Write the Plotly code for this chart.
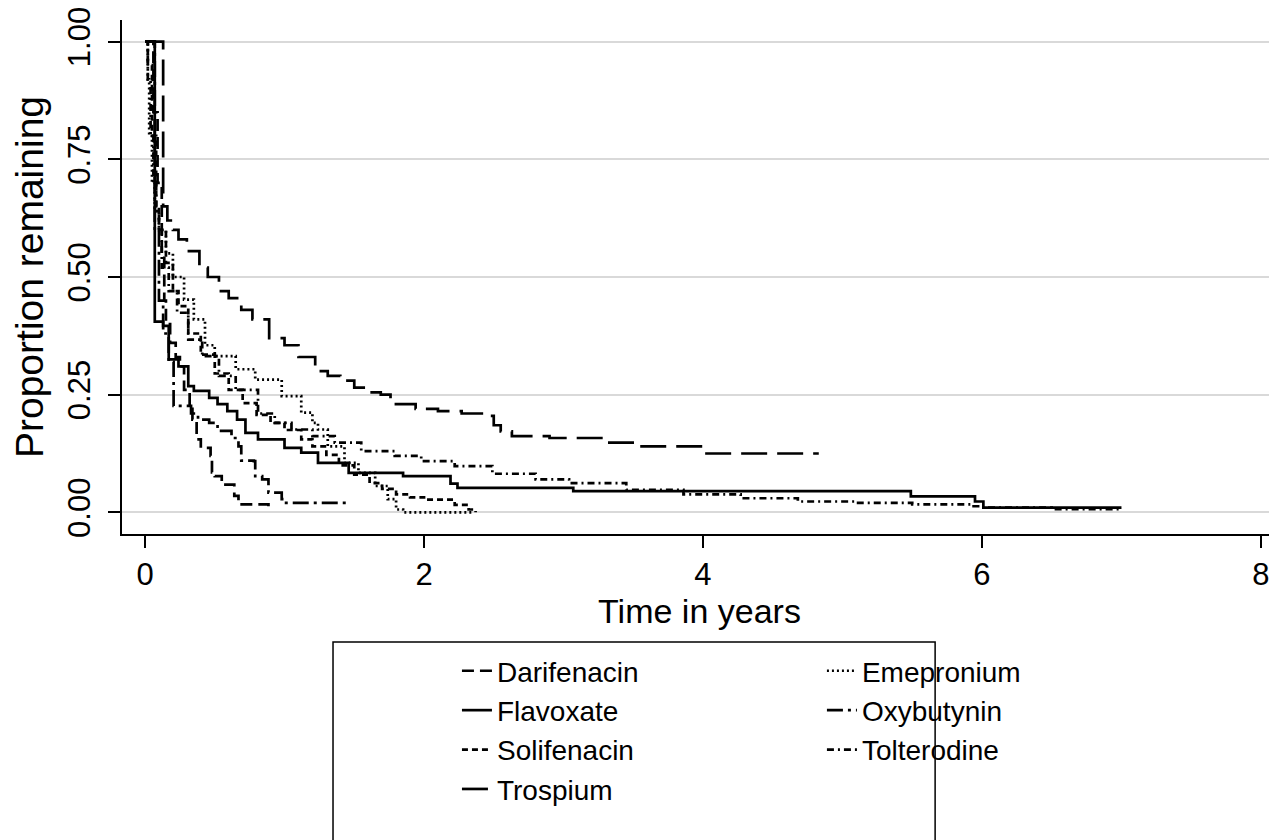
import plotly.graph_objects as go

# ---- data ----
drugs = ["Darifenacin", "Emepronium", "Flavoxate", "Oxybutynin",
         "Solifenacin", "Tolterodine", "Trospium"]

darifenacin_t = [0, 0.06, 0.09, 0.12, 0.138, 0.15, 0.18, 0.22, 0.25, 0.28, 0.32, 0.34, 0.37, 0.40, 0.47, 0.48, 0.50, 0.55, 0.64, 0.67, 0.885]
darifenacin_s = [1.0, 0.85, 0.70, 0.55, 0.45, 0.40, 0.36, 0.33, 0.31, 0.26, 0.22, 0.197, 0.155, 0.137, 0.12, 0.085, 0.077, 0.059, 0.035, 0.017, 0.0]

emepronium_t = [0, 0.02, 0.03, 0.05, 0.07, 0.10, 0.15, 0.20, 0.28, 0.35, 0.43, 0.50, 0.65, 0.79, 0.98, 1.12, 1.20, 1.24, 1.31, 1.43, 1.53, 1.65, 1.74, 1.80, 1.85, 2.35]
emepronium_s = [1.0, 0.92, 0.80, 0.70, 0.64, 0.60, 0.55, 0.50, 0.452, 0.41, 0.355, 0.332, 0.304, 0.282, 0.247, 0.212, 0.19, 0.176, 0.14, 0.105, 0.084, 0.056, 0.028, 0.006, 0.0, 0.0]

flavoxate_t = [0, 0.07, 0.13, 0.17, 0.24, 0.31, 0.35, 0.46, 0.52, 0.59, 0.66, 0.72, 0.81, 1.00, 1.12, 1.24, 1.46, 1.85, 2.19, 2.24, 3.07, 5.49, 5.95, 6.01, 7.0]
flavoxate_s = [1.0, 0.405, 0.396, 0.325, 0.31, 0.268, 0.258, 0.243, 0.23, 0.215, 0.197, 0.169, 0.155, 0.137, 0.127, 0.105, 0.084, 0.077, 0.061, 0.052, 0.045, 0.034, 0.023, 0.01, 0.01]

oxybutynin_t = [0, 0.07, 0.10, 0.13, 0.17, 0.205, 0.33, 0.38, 0.46, 0.52, 0.62, 0.67, 0.69, 0.78, 0.79, 0.84, 0.885, 0.98, 1.00, 1.47]
oxybutynin_s = [1.0, 0.60, 0.45, 0.38, 0.32, 0.226, 0.21, 0.197, 0.19, 0.173, 0.158, 0.14, 0.11, 0.109, 0.077, 0.07, 0.042, 0.028, 0.02, 0.02]

solifenacin_t = [0, 0.02, 0.05, 0.08, 0.10, 0.15, 0.20, 0.24, 0.31, 0.40, 0.50, 0.60, 0.70, 0.80, 0.90, 1.00, 1.12, 1.20, 1.30, 1.39, 1.50, 1.61, 1.70, 1.80, 1.90, 2.02, 2.22, 2.32, 2.37]
solifenacin_s = [1.0, 0.95, 0.80, 0.65, 0.60, 0.53, 0.47, 0.438, 0.38, 0.335, 0.295, 0.26, 0.232, 0.207, 0.19, 0.175, 0.155, 0.14, 0.122, 0.10, 0.08, 0.062, 0.05, 0.038, 0.032, 0.027, 0.016, 0.006, 0.0]

tolterodine_t = [0, 0.02, 0.04, 0.06, 0.08, 0.10, 0.12, 0.17, 0.23, 0.31, 0.41, 0.53, 0.65, 0.81, 0.93, 1.05, 1.20, 1.36, 1.55, 1.79, 1.98, 2.22, 2.49, 2.80, 3.04, 3.45, 3.86, 4.27, 4.68, 5.09, 5.50, 5.94, 6.00, 6.50, 7.0]
tolterodine_s = [1.0, 0.92, 0.80, 0.70, 0.64, 0.60, 0.52, 0.47, 0.424, 0.367, 0.332, 0.29, 0.26, 0.21, 0.19, 0.176, 0.162, 0.148, 0.13, 0.12, 0.109, 0.098, 0.082, 0.07, 0.062, 0.048, 0.038, 0.03, 0.023, 0.02, 0.017, 0.013, 0.01, 0.007, 0.005]

trospium_t = [0, 0.13, 0.16, 0.20, 0.24, 0.30, 0.39, 0.45, 0.53, 0.60, 0.69, 0.77, 0.89, 1.00, 1.10, 1.22, 1.31, 1.40, 1.50, 1.60, 1.69, 1.76, 1.94, 2.10, 2.27, 2.45, 2.50, 2.55, 2.63, 2.90, 3.31, 3.55, 4.00, 4.83]
trospium_s = [1.0, 0.65, 0.62, 0.60, 0.58, 0.555, 0.52, 0.50, 0.47, 0.455, 0.43, 0.41, 0.37, 0.355, 0.33, 0.30, 0.29, 0.28, 0.265, 0.255, 0.25, 0.23, 0.22, 0.215, 0.21, 0.205, 0.185, 0.172, 0.162, 0.158, 0.148, 0.14, 0.125, 0.125]

y_tickvals = [0, 0.25, 0.5, 0.75, 1.0]
y_ticktext = ["0.00", "0.25", "0.50", "0.75", "1.00"]
x_tickvals = [0, 2, 4, 6, 8]

series = {
    "Darifenacin": (darifenacin_t, darifenacin_s),
    "Emepronium": (emepronium_t, emepronium_s),
    "Flavoxate": (flavoxate_t, flavoxate_s),
    "Oxybutynin": (oxybutynin_t, oxybutynin_s),
    "Solifenacin": (solifenacin_t, solifenacin_s),
    "Tolterodine": (tolterodine_t, tolterodine_s),
    "Trospium": (trospium_t, trospium_s),
}

dash_styles = {
    "Darifenacin": "12px,6px",
    "Emepronium": "2px,3px",
    "Flavoxate": "solid",
    "Oxybutynin": "16px,5px,3px,5px",
    "Solifenacin": "6px,4px",
    "Tolterodine": "7px,4px,2px,4px",
    "Trospium": "26px,10px",
}
left_col = ["Darifenacin", "Flavoxate", "Solifenacin", "Trospium"]

FONT = "Liberation Sans, Arial, Helvetica, sans-serif"

fig = go.Figure()
for name in drugs:
    t, s = series[name]
    fig.add_trace(go.Scatter(
        x=t, y=s, mode="lines", name=name,
        line=dict(color="black", width=2.7, dash=dash_styles[name], shape="hv"),
        legend="legend" if name in left_col else "legend2",
    ))

legend_common = dict(
    orientation="v", yanchor="top", xanchor="left",
    font=dict(family=FONT, size=28, color="black"),
    bgcolor="rgba(0,0,0,0)", borderwidth=0, tracegroupgap=0,
)

# the page body adds an 8px margin, so the figure is 8px smaller than the window
fig.update_layout(
    width=1269, height=832,
    margin=dict(l=114, r=0, t=12, b=306, autoexpand=False),
    paper_bgcolor="white", plot_bgcolor="white",
    font=dict(family=FONT, color="black"),
    showlegend=True,
    legend=dict(x=0.290, y=-0.218, **legend_common),
    legend2=dict(x=0.606, y=-0.218, **legend_common),
    shapes=[dict(type="rect", xref="paper", yref="paper",
                 x0=0.1827, x1=0.704, y0=-0.70, y1=-0.210,
                 line=dict(color="black", width=1.5), fillcolor="rgba(0,0,0,0)")],
    xaxis=dict(
        range=[-0.165, 8.115], tickvals=x_tickvals, automargin=False,
        ticklabeloverflow="allow",
        showgrid=False, zeroline=False,
        showline=True, linecolor="black", linewidth=2,
        ticks="outside", ticklen=12, tickwidth=2, tickcolor="black",
        tickfont=dict(family=FONT, size=31, color="black"),
        title=dict(text="Time in years", font=dict(family=FONT, size=34, color="black"), standoff=3),
    ),
    yaxis=dict(
        range=[-0.046, 1.046], tickvals=y_tickvals, ticktext=y_ticktext, automargin=False,
        tickangle=-90, ticklabelstandoff=6, ticklabeloverflow="allow",
        showgrid=True, gridcolor="#d9d9d9", gridwidth=1.5, zeroline=False,
        showline=True, linecolor="black", linewidth=2,
        ticks="outside", ticklen=12, tickwidth=2, tickcolor="black",
        tickfont=dict(family=FONT, size=31, color="black"),
        title=dict(text="Proportion remaining", font=dict(family=FONT, size=39, color="black"), standoff=14),
    ),
)

fig.write_html("out.html")
